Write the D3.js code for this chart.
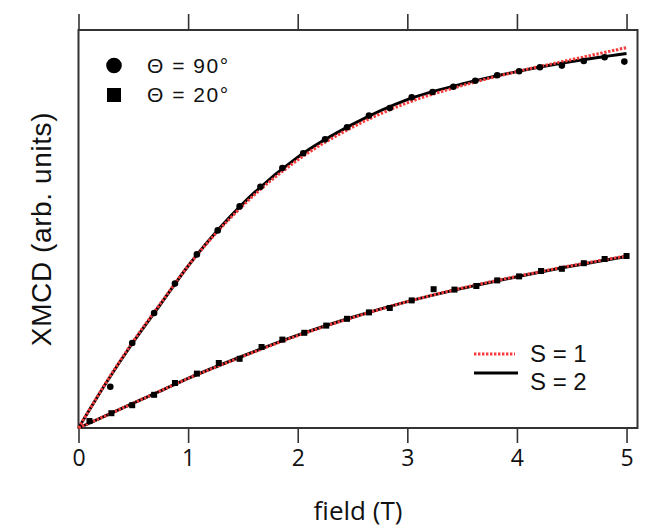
<!DOCTYPE html>
<html lang="en">
<head>
  <meta charset="UTF-8">
  <title>XMCD vs field</title>
  <script src="https://d3js.org/d3.v7.min.js"></script>
  <style>
    body
    {
      margin: 0;
      background-color: #fff;
    }

    svg
    {
      display: block;
    }

    .tick text
    {
      font-family: "Open Sans", sans-serif;
    }
  </style>
</head>
<body>
  <svg width="664" height="531"></svg>
  <script>
    // measured points, theta = 90 deg
    const field90 = [0.29, 0.49, 0.69, 0.88, 1.08, 1.27, 1.47, 1.66, 1.86, 2.05, 2.25, 2.45, 2.65,
      2.84, 3.04, 3.23, 3.42, 3.62, 3.82, 4.02, 4.21, 4.41, 4.61, 4.80, 4.98];
    const xmcd90 = [0.103, 0.2125, 0.2875, 0.361, 0.434, 0.494, 0.554, 0.603, 0.650, 0.687, 0.722, 0.752, 0.781,
      0.800, 0.827, 0.840, 0.853, 0.868, 0.882, 0.892, 0.902, 0.906, 0.9175, 0.927, 0.916];

    // measured points, theta = 20 deg
    const field20 = [0.10, 0.30, 0.49, 0.69, 0.88, 1.08, 1.28, 1.47, 1.67, 1.86, 2.06, 2.26, 2.45,
      2.65, 2.84, 3.04, 3.24, 3.43, 3.63, 3.82, 4.02, 4.22, 4.41, 4.61, 4.80, 5.00];
    const xmcd20 = [0.0175, 0.037, 0.057, 0.083, 0.1125, 0.136, 0.1625, 0.173, 0.2025, 0.221, 0.238, 0.256, 0.273,
      0.289, 0.300, 0.319, 0.347, 0.346, 0.355, 0.369, 0.379, 0.3925, 0.398, 0.412, 0.4225, 0.430];

    // fit curves
    const fitField = [0, 0.25, 0.5, 0.75, 1.0, 1.5, 2.0, 2.5, 3.0, 3.5, 4.0, 4.5, 5.0];
    const fitS1_90 = [0, 0.113, 0.217, 0.312, 0.405, 0.556, 0.670, 0.752, 0.813, 0.856, 0.891, 0.921, 0.951];
    const fitS2_90 = [0, 0.112, 0.215, 0.310, 0.405, 0.561, 0.677, 0.759, 0.821, 0.860, 0.891, 0.916, 0.936];
    const fitS1_20 = [0, 0.031, 0.062, 0.093, 0.124, 0.179, 0.231, 0.276, 0.316, 0.350, 0.379, 0.406, 0.430];
    const fitS2_20 = [0, 0.031, 0.062, 0.093, 0.124, 0.180, 0.232, 0.277, 0.316, 0.349, 0.378, 0.405, 0.429];

    const xTicks = [0, 1, 2, 3, 4, 5];
    const symbolLegend = ["Θ = 90°", "Θ = 20°"];
    const lineLegend = ["S = 1", "S = 2"];

    const svg = d3.select("svg");

    const x = d3.scaleLinear().domain([0, 5.1]).range([78.5, 637.5]);
    const y = d3.scaleLinear().domain([0, 1]).range([428, 28]);
    const frameTop = 30;

    const red = "#f53b3b";
    const axisColor = "#333";

    // frame
    svg.append("rect")
      .attr("x", x(0))
      .attr("y", frameTop)
      .attr("width", x(5.1) - x(0))
      .attr("height", y(0) - frameTop)
      .attr("fill", "none")
      .attr("stroke", axisColor)
      .attr("stroke-width", 2);

    // bottom axis
    const bottomAxis = svg.append("g")
      .attr("transform", `translate(0,${y(0)})`)
      .call(d3.axisBottom(x).tickValues(xTicks).tickSize(15).tickPadding(7).tickFormat(d3.format("d")));
    bottomAxis.select(".domain").remove();
    bottomAxis.selectAll(".tick line").attr("stroke", axisColor).attr("stroke-width", 1.6);
    bottomAxis.selectAll(".tick text").attr("font-size", 23).attr("fill", "#111");

    // top axis, ticks only
    const topAxis = svg.append("g")
      .attr("transform", `translate(0,${frameTop})`)
      .call(d3.axisTop(x).tickValues(xTicks).tickSize(16).tickFormat(""));
    topAxis.select(".domain").remove();
    topAxis.selectAll(".tick line").attr("stroke", axisColor).attr("stroke-width", 1.6);

    svg.append("text")
      .attr("x", (x(0) + x(5.1)) / 2)
      .attr("y", 520)
      .attr("text-anchor", "middle")
      .attr("font-family", "Open Sans, sans-serif")
      .attr("font-size", 26)
      .attr("fill", "#111")
      .text("field (T)");

    svg.append("text")
      .attr("transform", `translate(51,${(y(0) + frameTop) / 2}) rotate(-90)`)
      .attr("text-anchor", "middle")
      .attr("font-family", "Liberation Sans, Arial, sans-serif")
      .attr("font-size", 28)
      .attr("letter-spacing", 0.6)
      .attr("fill", "#111")
      .text("XMCD (arb. units)");

    const line = d3.line()
      .x(d => x(d[0]))
      .y(d => y(d[1]))
      .curve(d3.curveMonotoneX);

    const zip = (a, b) => a.map((v, i) => [v, b[i]]);

    // S = 2 solid black, S = 1 dotted red on top
    [fitS2_90, fitS2_20].forEach(vals => {
      svg.append("path")
        .attr("d", line(zip(fitField, vals)))
        .attr("fill", "none")
        .attr("stroke", "#000")
        .attr("stroke-width", 3);
    });

    [fitS1_90, fitS1_20].forEach(vals => {
      svg.append("path")
        .attr("d", line(zip(fitField, vals)))
        .attr("fill", "none")
        .attr("stroke", red)
        .attr("stroke-width", 3)
        .attr("stroke-dasharray", "2.4,1.6");
    });

    // data points
    svg.append("g")
      .selectAll("circle")
      .data(zip(field90, xmcd90))
      .join("circle")
      .attr("cx", d => x(d[0]))
      .attr("cy", d => y(d[1]))
      .attr("r", 3.3)
      .attr("fill", "#000");

    svg.append("g")
      .selectAll("rect")
      .data(zip(field20, xmcd20))
      .join("rect")
      .attr("x", d => x(d[0]) - 3)
      .attr("y", d => y(d[1]) - 3)
      .attr("width", 6)
      .attr("height", 6)
      .attr("fill", "#000");

    // symbol legend
    const leg1 = svg.append("g").attr("font-family", "Liberation Sans, Arial, sans-serif");
    leg1.append("circle").attr("cx", 114).attr("cy", 65.5).attr("r", 7.8).attr("fill", "#000");
    leg1.append("rect").attr("x", 107).attr("y", 88).attr("width", 14).attr("height", 14).attr("fill", "#000");
    leg1.selectAll("text")
      .data(symbolLegend)
      .join("text")
      .attr("x", 147)
      .attr("y", (d, i) => 72.5 + i * 29)
      .attr("font-size", 21)
      .attr("letter-spacing", 1.5)
      .attr("fill", "#111")
      .text(d => d);

    // line legend
    const leg2 = svg.append("g").attr("font-family", "Liberation Sans, Arial, sans-serif");
    leg2.append("line").attr("x1", 474).attr("x2", 515).attr("y1", 354).attr("y2", 354)
      .attr("stroke", red).attr("stroke-width", 3).attr("stroke-dasharray", "2.4,1.6");
    leg2.append("line").attr("x1", 474).attr("x2", 518).attr("y1", 373).attr("y2", 373)
      .attr("stroke", "#000").attr("stroke-width", 3);
    leg2.selectAll("text")
      .data(lineLegend)
      .join("text")
      .attr("x", 530)
      .attr("y", (d, i) => 362 + i * 28)
      .attr("font-size", 24)
      .attr("fill", "#111")
      .text(d => d);
  </script>
</body>
</html>
